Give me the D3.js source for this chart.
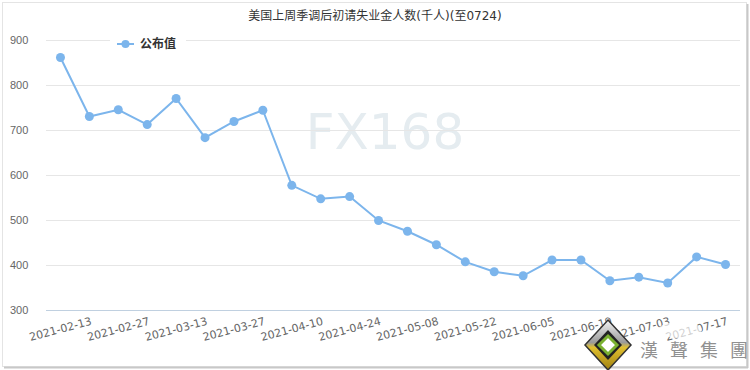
<!DOCTYPE html>
<html>
<head>
<meta charset="utf-8">
<script src="https://cdn.jsdelivr.net/npm/d3@7"></script>
<style>
  body { margin: 0; background: #fff; }
  svg { display: block; font-family: "DejaVu Sans", "Noto Sans CJK SC", sans-serif; }
</style>
</head>
<body>
<div id="chart"></div>
<script>
// weekly dates (categories)
var dates = ["2021-02-13","2021-02-20","2021-02-27","2021-03-06","2021-03-13","2021-03-20",
  "2021-03-27","2021-04-03","2021-04-10","2021-04-17","2021-04-24","2021-05-01",
  "2021-05-08","2021-05-15","2021-05-22","2021-05-29","2021-06-05","2021-06-12",
  "2021-06-19","2021-06-26","2021-07-03","2021-07-10","2021-07-17","2021-07-24"];
// published values (thousands)
var values = [861, 730, 745, 712, 770, 683, 719, 744, 577, 547, 552, 499,
  475, 445, 407, 385, 376, 411, 411, 365, 373, 360, 418, 401];
var yTicks = [300, 400, 500, 600, 700, 800, 900];
var title = "美国上周季调后初请失业金人数(千人)(至0724)";
var seriesName = "公布值";

var W = 750, H = 370;
var margin = {top: 40, right: 10, bottom: 60, left: 46};
var width = 740 - margin.left, height = 310 - margin.top;

var svg = d3.select("#chart").append("svg").attr("width", W).attr("height", H);

// frame + shadow
svg.append("rect").attr("x", 2.5).attr("y", 2.5).attr("width", 744).attr("height", 364)
  .attr("fill", "#fff").attr("stroke", "#e4e4e4");
svg.append("line").attr("x1", 747.5).attr("x2", 747.5).attr("y1", 4).attr("y2", 368)
  .attr("stroke", "#c8c8c8").attr("stroke-width", 2);
svg.append("line").attr("x1", 4).attr("x2", 748).attr("y1", 367.5).attr("y2", 367.5)
  .attr("stroke", "#c8c8c8").attr("stroke-width", 2);

// watermark
svg.append("text").attr("x", 385).attr("y", 149).attr("text-anchor", "middle")
  .attr("font-size", 50).attr("fill", "#e5ecf0").text("FX168");

var g = svg.append("g").attr("transform", "translate(" + margin.left + "," + margin.top + ")");

var x = d3.scaleBand().domain(dates).range([0, width]);
var y = d3.scaleLinear().domain([300, 900]).range([height, 0]);

// y axis + grid
var yAxis = g.append("g").call(d3.axisLeft(y).tickValues(yTicks).tickSize(-width).tickPadding(15));
yAxis.select(".domain").remove();
yAxis.selectAll(".tick line").attr("stroke", "#e6e6e6");
yAxis.selectAll(".tick text").attr("fill", "#666").attr("font-size", 11)
  .attr("text-anchor", "start").attr("x", -36);

// x axis line
g.append("line").attr("x1", 0).attr("x2", width).attr("y1", height + 0.5).attr("y2", height + 0.5)
  .attr("stroke", "#c0d0e0");

// x labels, every other week
g.selectAll(".xlab").data(dates.filter(function(d, i) { return i % 2 === 0; }))
  .enter().append("text")
  .attr("class", "xlab")
  .attr("transform", function(d) {
    return "translate(" + (x(d) + x.bandwidth() / 2) + "," + (height + 19) + ") rotate(-15)";
  })
  .attr("text-anchor", "middle").attr("dy", "0.35em")
  .attr("font-size", 11).attr("fill", "#666")
  .text(function(d) { return d; });

// line
var line = d3.line()
  .x(function(d, i) { return x(dates[i]) + x.bandwidth() / 2; })
  .y(function(d) { return y(d); });

g.append("path").datum(values).attr("d", line)
  .attr("fill", "none").attr("stroke", "#7cb5ec").attr("stroke-width", 2);

g.selectAll(".dot").data(values).enter().append("circle")
  .attr("cx", function(d, i) { return x(dates[i]) + x.bandwidth() / 2; })
  .attr("cy", function(d) { return y(d); })
  .attr("r", 4.5).attr("fill", "#7cb5ec");

// title
svg.append("text").attr("x", 375).attr("y", 20).attr("text-anchor", "middle")
  .attr("font-size", 12).attr("fill", "#333").text(title);

// legend
var leg = svg.append("g").attr("transform", "translate(110,44)");
leg.append("rect").attr("x", 0).attr("y", -9).attr("width", 76).attr("height", 18).attr("fill", "#fff");
leg.append("line").attr("x1", 7).attr("x2", 24).attr("y1", 0).attr("y2", 0)
  .attr("stroke", "#7cb5ec").attr("stroke-width", 2);
leg.append("circle").attr("cx", 15.5).attr("cy", 0).attr("r", 4).attr("fill", "#7cb5ec");
leg.append("text").attr("x", 30).attr("y", 0).attr("dy", "0.36em")
  .attr("font-size", 12).attr("font-weight", "bold").attr("fill", "#333").text(seriesName);

// logo
var logo = svg.append("g").attr("transform", "translate(608,345)");
var defs = svg.append("defs");
var gold = defs.append("linearGradient").attr("id", "gold").attr("x1", 0).attr("y1", 0).attr("x2", 0).attr("y2", 1);
gold.append("stop").attr("offset", "0%").attr("stop-color", "#f4f4f4");
gold.append("stop").attr("offset", "45%").attr("stop-color", "#9a9a9a");
gold.append("stop").attr("offset", "55%").attr("stop-color", "#e0c030");
gold.append("stop").attr("offset", "100%").attr("stop-color", "#a08010");
logo.append("path").attr("d", "M0,-25 L23,0 L0,25 L-23,0 Z").attr("fill", "url(#gold)")
  .attr("stroke", "#333").attr("stroke-width", 1.5);
logo.append("path").attr("d", "M0,-15 L14,0 L0,15 L-14,0 Z").attr("fill", "#222");
logo.append("path").attr("d", "M0,-9 L9,0 L0,9 L-9,0 Z").attr("fill", "#fff")
  .attr("stroke", "#7ab030").attr("stroke-width", 3);
svg.append("ellipse").attr("cx", 680).attr("cy", 330).attr("rx", 22).attr("ry", 8)
  .attr("fill", "#fff").attr("opacity", 0.7);
svg.selectAll(".logotxt").data(["漢", "聲", "集", "團"]).enter().append("text")
  .attr("x", function(d, i) { return 649 + i * 30; }).attr("y", 357)
  .attr("text-anchor", "middle").attr("font-size", 18).attr("fill", "#909090")
  .attr("font-family", "Noto Sans CJK TC")
  .text(function(d) { return d; });
</script>
</body>
</html>
